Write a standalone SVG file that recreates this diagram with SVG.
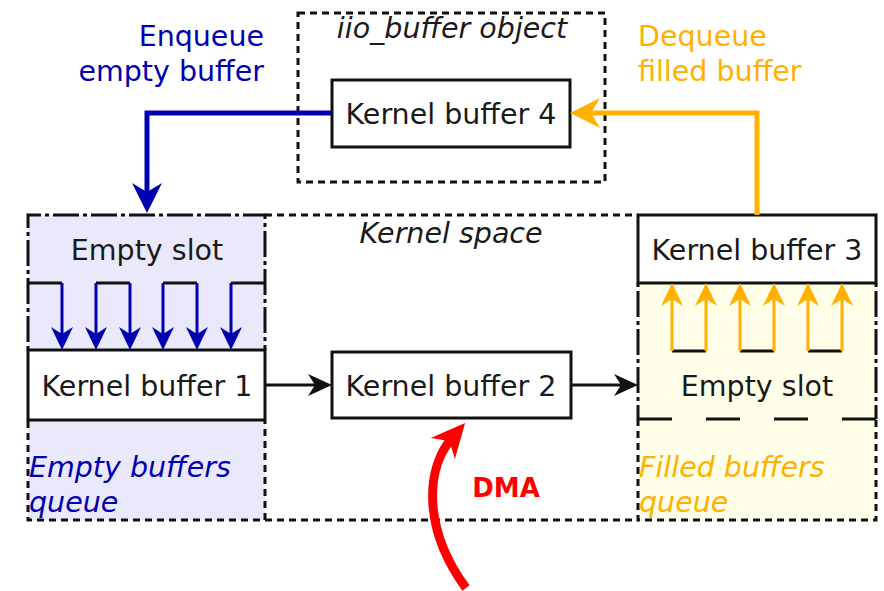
<svg xmlns="http://www.w3.org/2000/svg" width="884" height="591" viewBox="0 0 884 591">
<style>
text{font-family:"DejaVu Sans","Liberation Sans",sans-serif;font-size:28.5px;fill:#1a1a1a}
.it{font-style:italic}
.blue{fill:#0000b0}
.orange{fill:#ffb000}
.box{fill:#fff;stroke:#111;stroke-width:3}
.dash{fill:none;stroke:#111;stroke-width:3;stroke-dasharray:7 5}
.dd{fill:none;stroke:#111;stroke-width:3;stroke-dasharray:4 4 26 4}
.seg{fill:none;stroke:#111;stroke-width:3}
</style>
<defs>
<marker id="mBlue" viewBox="0 -16 32 32" markerWidth="32" markerHeight="32" refX="12" refY="0" orient="auto" markerUnits="userSpaceOnUse"><path d="M30,0 L0,-15 L9,0 L0,15 Z" fill="#0000b0"/></marker>
<marker id="mOrange" viewBox="0 -16 32 32" markerWidth="32" markerHeight="32" refX="12" refY="0" orient="auto" markerUnits="userSpaceOnUse"><path d="M30,0 L0,-15 L9,0 L0,15 Z" fill="#ffb000"/></marker>
<marker id="mBlueS" viewBox="0 -12 24 24" markerWidth="24" markerHeight="24" refX="9" refY="0" orient="auto" markerUnits="userSpaceOnUse"><path d="M23,0 L0,-11 L7,0 L0,11 Z" fill="#0000b0"/></marker>
<marker id="mOrangeS" viewBox="0 -12 24 24" markerWidth="24" markerHeight="24" refX="9" refY="0" orient="auto" markerUnits="userSpaceOnUse"><path d="M23,0 L0,-11 L7,0 L0,11 Z" fill="#ffb000"/></marker>
<marker id="mBlack" viewBox="0 -12 26 24" markerWidth="26" markerHeight="24" refX="10" refY="0" orient="auto" markerUnits="userSpaceOnUse"><path d="M24,0 L0,-11 L7,0 L0,11 Z" fill="#111"/></marker>
<marker id="mRed" viewBox="0 -17 36 34" markerWidth="36" markerHeight="34" refX="14" refY="0" orient="auto" markerUnits="userSpaceOnUse"><path d="M34,0 L0,-16 L10,0 L0,16 Z" fill="#ff0000"/></marker>
</defs>
<rect width="884" height="591" fill="#fff"/>

<g id="empty-queue">
<rect x="28" y="215" width="237" height="305" fill="#e9e9fb"/>
<path class="dd" d="M28,350 V215 H265 V350"/>
<path class="dash" d="M28,421 V520 H265 V421"/>
<text x="147" y="260" text-anchor="middle">Empty slot</text>
<path class="seg" d="M28,283 H62 M96,283 H130 M163,283 H197 M231,283 H265"/>
<text class="it blue" x="29" y="477">Empty buffers</text>
<text class="it blue" x="29" y="512">queue</text>
</g>

<g id="filled-queue">
<rect x="638" y="283" width="238" height="237" fill="#fefee9"/>
<path class="dd" d="M638,283 V419 M876,283 V419"/>
<path class="dash" d="M638,419 V520 H876 V419"/>
<path class="seg" d="M638,419 H672 M706,419 H740 M774,419 H808 M842,419 H876"/>
<text x="757" y="396" text-anchor="middle">Empty slot</text>
<path class="seg" d="M672,351 H706 M740,351 H774 M808,351 H842"/>
<text class="it orange" x="639" y="477">Filled buffers</text>
<text class="it orange" x="639" y="512">queue</text>
</g>

<g id="kernel-space">
<path class="dash" d="M265,215 H638 M265,520 H638"/>
<text class="it" x="451" y="243" text-anchor="middle">Kernel space</text>
</g>

<g id="iio-buffer-object">
<rect class="dash" x="298" y="13" width="307" height="169"/>
<text class="it" x="452" y="38" text-anchor="middle">iio_buffer object</text>
</g>

<g id="kb4">
<rect class="box" x="332" y="80" width="238" height="67"/>
<text x="451" y="124" text-anchor="middle">Kernel buffer 4</text>
</g>
<g id="kb1">
<rect class="box" x="28" y="350" width="237" height="70"/>
<text x="147" y="396" text-anchor="middle">Kernel buffer 1</text>
</g>
<g id="kb2">
<rect class="box" x="332" y="352" width="239" height="66"/>
<text x="451" y="396" text-anchor="middle">Kernel buffer 2</text>
</g>
<g id="kb3">
<rect class="box" x="638" y="215" width="238" height="68"/>
<text x="757" y="260" text-anchor="middle">Kernel buffer 3</text>
</g>

<g id="labels">
<text class="blue" x="264" y="46" text-anchor="end">Enqueue</text>
<text class="blue" x="264" y="81" text-anchor="end">empty buffer</text>
<text class="orange" x="638" y="46">Dequeue</text>
<text class="orange" x="638" y="81">filled buffer</text>
<text x="506" y="497" text-anchor="middle" style="font-weight:bold;fill:#ff0000;font-size:26px">DMA</text>
</g>

<g id="connectors" fill="none">
<path d="M332,113 H147 V195" stroke="#0000b0" stroke-width="5" marker-end="url(#mBlue)"/>
<path d="M757,215 V113 H588" stroke="#ffb000" stroke-width="5" marker-end="url(#mOrange)"/>
<g stroke="#0000b0" stroke-width="3">
<path d="M62,283 V336" marker-end="url(#mBlueS)"/>
<path d="M96,283 V336" marker-end="url(#mBlueS)"/>
<path d="M130,283 V336" marker-end="url(#mBlueS)"/>
<path d="M163,283 V336" marker-end="url(#mBlueS)"/>
<path d="M197,283 V336" marker-end="url(#mBlueS)"/>
<path d="M231,283 V336" marker-end="url(#mBlueS)"/>
</g>
<g stroke="#ffb000" stroke-width="3">
<path d="M672,351 V297" marker-end="url(#mOrangeS)"/>
<path d="M706,351 V297" marker-end="url(#mOrangeS)"/>
<path d="M740,351 V297" marker-end="url(#mOrangeS)"/>
<path d="M774,351 V297" marker-end="url(#mOrangeS)"/>
<path d="M808,351 V297" marker-end="url(#mOrangeS)"/>
<path d="M842,351 V297" marker-end="url(#mOrangeS)"/>
</g>
<path d="M265,385 H318" stroke="#111" stroke-width="3" marker-end="url(#mBlack)"/>
<path d="M571,385 H624" stroke="#111" stroke-width="3" marker-end="url(#mBlack)"/>
<path d="M466,588 C422,528 426,468 452,438" stroke="#ff0000" stroke-width="9" marker-end="url(#mRed)"/>
</g>
</svg>
